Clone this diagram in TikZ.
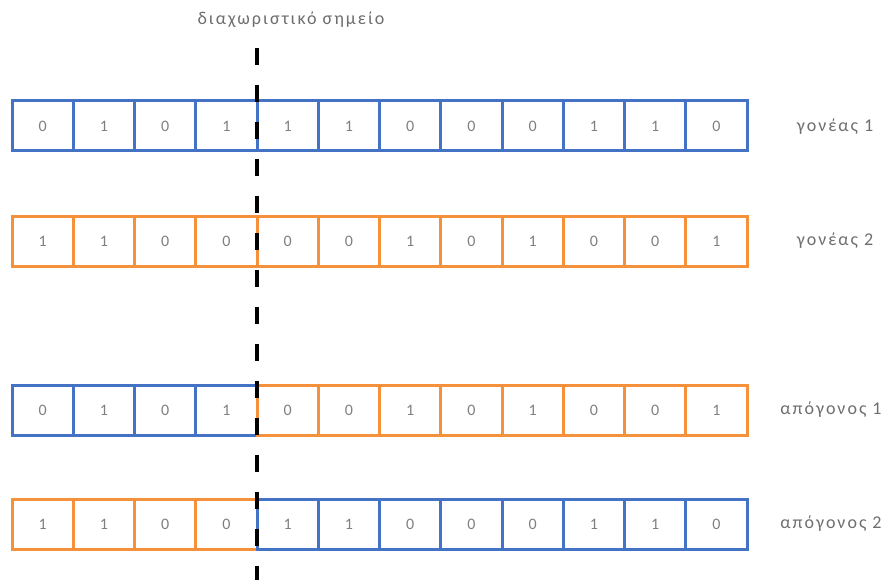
\documentclass[tikz,border=0pt]{standalone}
\usepackage{fontspec}
\setmainfont{Carlito}
\newfontfamily\spacedfont[LetterSpace=11]{Carlito}
\definecolor{cblue}{HTML}{4472C4}
\definecolor{corange}{HTML}{F5913A}
\definecolor{tgray}{HTML}{6E6E6E}
\definecolor{dgray}{HTML}{808080}
\tikzset{
  cell/.style={draw, line width=3pt, minimum width=61.25pt, minimum height=50pt,
    inner sep=0pt, outer sep=0pt, anchor=north west, text=dgray,
    font=\fontsize{16}{16}\selectfont},
  lbl/.style={text=tgray, font=\spacedfont\fontsize{18}{18}\selectfont, inner sep=0pt},
  cutline/.style={draw=black, line width=3.5pt, dash pattern=on 17pt off 20pt}
}
\begin{document}
\begin{tikzpicture}[x=1pt,y=-1pt]
\useasboundingbox[fill=white] (0,0) rectangle (891,580);
% parent 1
\foreach \v [count=\i] in {0,1,0,1,1,1,0,0,0,1,1,0}
  \node[cell, draw=cblue] (pa\i) at ({12+(\i-1)*61.25},101) {\v};
% parent 2
\foreach \v [count=\i] in {1,1,0,0,0,0,1,0,1,0,0,1}
  \node[cell, draw=corange] (pb\i) at ({12+(\i-1)*61.25},216) {\v};
% offspring 1
\foreach \v [count=\i] in {0,1,0,1,0,0,1,0,1,0,0,1}{
  \ifnum\i<5 \def\cc{cblue}\else\def\cc{corange}\fi
  \node[cell, draw=\cc] (oa\i) at ({12+(\i-1)*61.25},385) {\v};
}
% offspring 2
\foreach \v [count=\i] in {1,1,0,0,1,1,0,0,0,1,1,0}{
  \ifnum\i<5 \def\cc{corange}\else\def\cc{cblue}\fi
  \node[cell, draw=\cc] (ob\i) at ({12+(\i-1)*61.25},499) {\v};
}
% labels
\node[lbl] (la) at (835,127) {γονέας 1};
\node[lbl] (lb) at (835,241) {γονέας 2};
\node[lbl] (lc) at (831,410) {απόγονος 1};
\node[lbl] (ld) at (831,524) {απόγονος 2};
\node[lbl] (title) at (291,20) {διαχωριστικό σημείο};
% cut line
\coordinate (cutT) at (257,48);
\coordinate (cutB) at (257,580);
\draw[cutline] (cutT) -- (cutB);
\end{tikzpicture}
\end{document}
